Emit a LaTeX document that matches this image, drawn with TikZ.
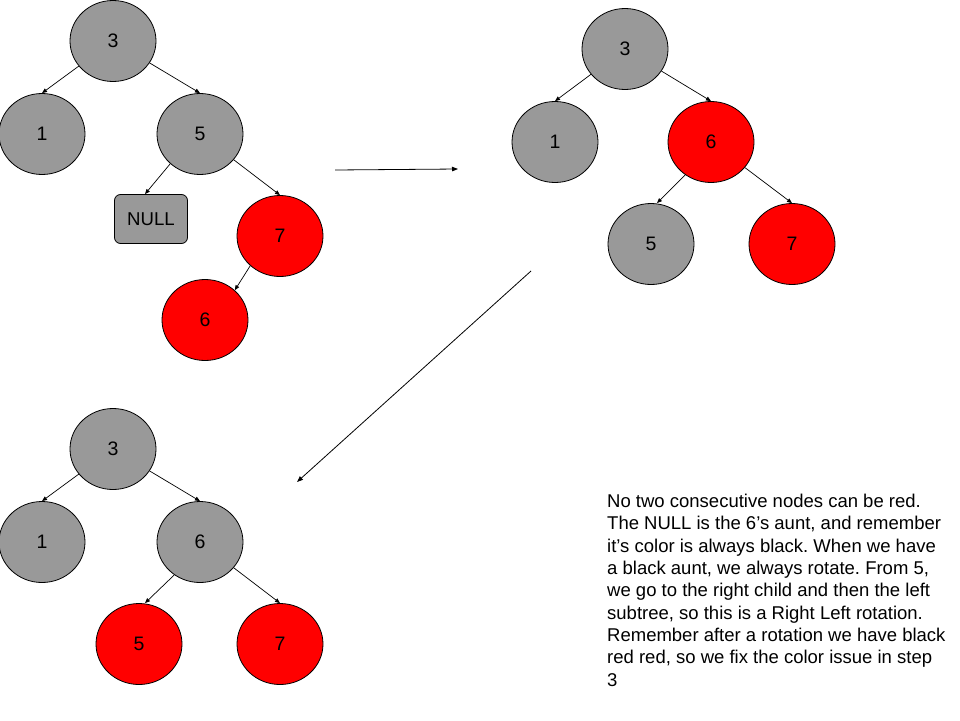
\documentclass[tikz,border=0pt]{standalone}
\usepackage{fontspec}
\setmainfont{Liberation Sans}
\usetikzlibrary{shapes.geometric,arrows.meta}
\definecolor{nodegray}{HTML}{999999}
\definecolor{nodered}{HTML}{FF0000}
\tikzset{
  treenode/.style={ellipse, draw=black, line width=0.8pt, minimum width=86pt,
    minimum height=81pt, inner sep=0pt, font=\fontsize{19.5}{23}\selectfont},
  blacknode/.style={treenode, fill=nodegray},
  rednode/.style={treenode, fill=nodered},
  nullbox/.style={rectangle, rounded corners=6pt, draw=black, line width=0.8pt,
    fill=nodegray, minimum width=73pt, minimum height=49pt, inner sep=0pt,
    font=\fontsize{18.6}{22}\selectfont},
  edge/.style={draw=black, line width=0.7pt, -{Triangle[length=5pt,width=4pt]}},
  stepline/.style={draw=black, line width=0.8pt, -{Triangle[length=6pt,width=4.5pt]}}
}
\begin{document}
\begin{tikzpicture}[x=1pt, y=-1pt]
\useasboundingbox (0,0) rectangle (960,720);

% insertion of 6: red child under red parent
\node[blacknode] (a3) at (113,41) {3};
\node[blacknode] (a1) at (42,134) {1};
\node[blacknode] (a5) at (200,134) {5};
\node[nullbox]   (anull) at (151,219) {NULL};
\node[rednode]   (a7) at (280,236) {7};
\node[rednode]   (a6) at (205,320) {6};
\draw[edge] (a3) -- (a1.north);
\draw[edge] (a3) -- (a5.north);
\draw[edge] (a5.225) -- ([xshift=-6pt]anull.north);
\draw[edge] (a5) -- (a7.north);
\draw[edge] (a7.225) -- (a6.45);

% after the right-left rotation
\node[blacknode] (b3) at (625,49) {3};
\node[blacknode] (b1) at (555,142) {1};
\node[rednode]   (b6) at (711,142) {6};
\node[blacknode] (b5) at (651,244) {5};
\node[rednode]   (b7) at (792,244) {7};
\draw[edge] (b3) -- (b1.north);
\draw[edge] (b3) -- (b6.north);
\draw[edge] (b6.232) -- ([xshift=6pt]b5.north);
\draw[edge] (b6) -- (b7.north);

% after recolouring
\node[blacknode] (c3) at (113,449) {3};
\node[blacknode] (c1) at (42,542) {1};
\node[blacknode] (c6) at (200,542) {6};
\node[rednode]   (c5) at (139,644) {5};
\node[rednode]   (c7) at (280,644) {7};
\draw[edge] (c3) -- (c1.north);
\draw[edge] (c3) -- (c6.north);
\draw[edge] (c6.232) -- ([xshift=6pt]c5.north);
\draw[edge] (c6) -- (c7.north);

% step arrows between the trees
\coordinate (s1a) at (335,170);
\coordinate (s1b) at (458,169);
\coordinate (s2a) at (531,271);
\coordinate (s2b) at (297,482);
\draw[stepline] (s1a) -- (s1b);
\draw[stepline] (s2a) -- (s2b);

% explanation
\node[anchor=north west, inner sep=0pt, align=left,
      font=\fontsize{18.5}{22.3}\selectfont\frenchspacing] (note) at (607,494) {%
No two consecutive nodes can be red.\\
The NULL is the 6’s aunt, and remember\\
it’s color is always black. When we have\\
a black aunt, we always rotate. From 5,\\
we go to the right child and then the left\\
subtree, so this is a Right Left rotation.\\
Remember after a rotation we have black\\
red red, so we fix the color issue in step\\
3};
\end{tikzpicture}
\end{document}
